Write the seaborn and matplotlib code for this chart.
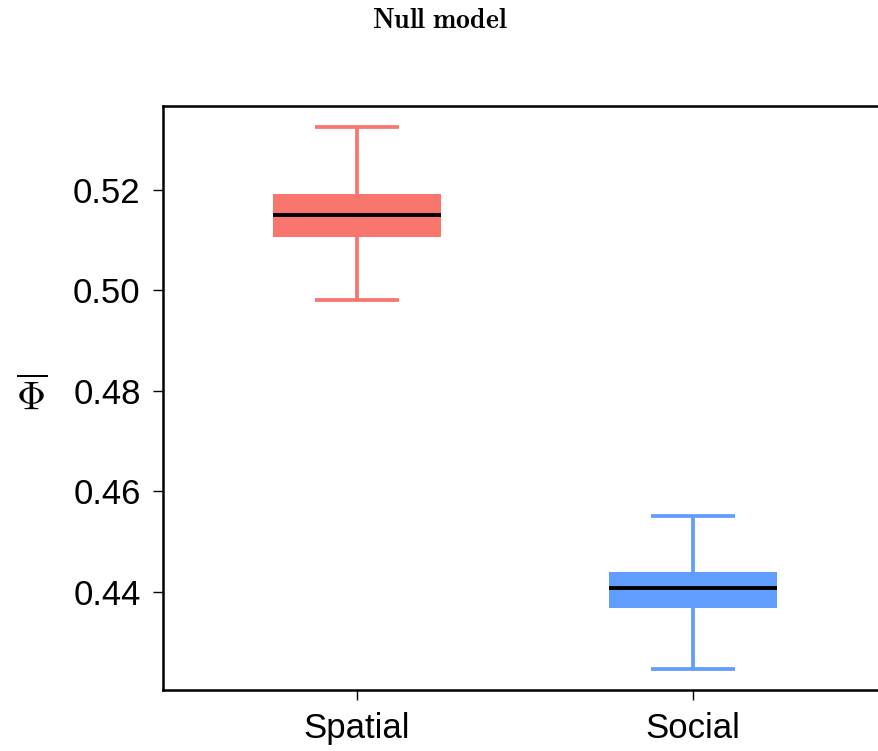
import matplotlib
matplotlib.use("Agg")
import matplotlib.pyplot as plt
import pandas as pd
import seaborn as sns

# five-number summaries (min, q1, median, q3, max)
models = ["Spatial", "Social"]
spatial_stats = [0.4980, 0.5106, 0.5150, 0.5192, 0.5325]
social_stats = [0.4247, 0.4368, 0.4408, 0.4440, 0.4551]
colors = ["#F8766D", "#619CFF"]
yticks = [0.44, 0.46, 0.48, 0.50, 0.52]

df = pd.DataFrame({
    "model": [models[0]] * len(spatial_stats) + [models[1]] * len(social_stats),
    "phi": spatial_stats + social_stats,
})

sns.set_style("white")
plt.rcParams["font.family"] = ["Liberation Sans", "DejaVu Sans"]
plt.rcParams["mathtext.fontset"] = "cm"
plt.rcParams["text.color"] = "black"
plt.rcParams["axes.labelcolor"] = "black"

fig = plt.figure(figsize=(8.79, 7.51), dpi=100)
ax = fig.add_axes([0.1854, 0.0812, 0.8236, 0.7777])

sns.boxplot(
    data=df, x="model", y="phi", hue="model", palette=colors, order=models,
    whis=(0, 100), width=0.5, showfliers=False, ax=ax, legend=False,
    saturation=1, linewidth=2.5,
    boxprops=dict(edgecolor="none"),
    medianprops=dict(color="black", linewidth=2.8),
)
# color whiskers and caps like the boxes, caps half the box width
for i, c in enumerate(colors):
    for line in ax.lines[i * 5:(i + 1) * 5]:
        if line.get_color() != "black":
            line.set_color(c)
            line.set_linewidth(2.7)
            line.set_solid_capstyle("butt")
            xd = line.get_xdata()
            if len(xd) == 2 and xd[0] != xd[1]:
                m = (xd[0] + xd[1]) / 2
                line.set_xdata([m - 0.125, m + 0.125])

ax.set_xlim(-0.577, 1.577)
ax.set_ylim(0.4205, 0.5367)
ax.set_yticks(yticks)
ax.set_yticklabels([f"{t:.2f}" for t in yticks])
ax.tick_params(axis="both", labelsize=25, direction="out", length=7, width=1,
               pad=9, left=True, bottom=True, colors="black")
ax.set_xlabel("")
ax.set_ylabel(r"$\overline{\Phi}$", fontsize=29, rotation=0,
              labelpad=30, va="center", color="black")
for s in ax.spines.values():
    s.set_linewidth(1.8)
    s.set_color("black")

fig.text(0.5, 0.972, r"$\mathbf{Null\ model}$", ha="center", va="center",
         fontsize=20)

fig.savefig("out.png", dpi=100)
